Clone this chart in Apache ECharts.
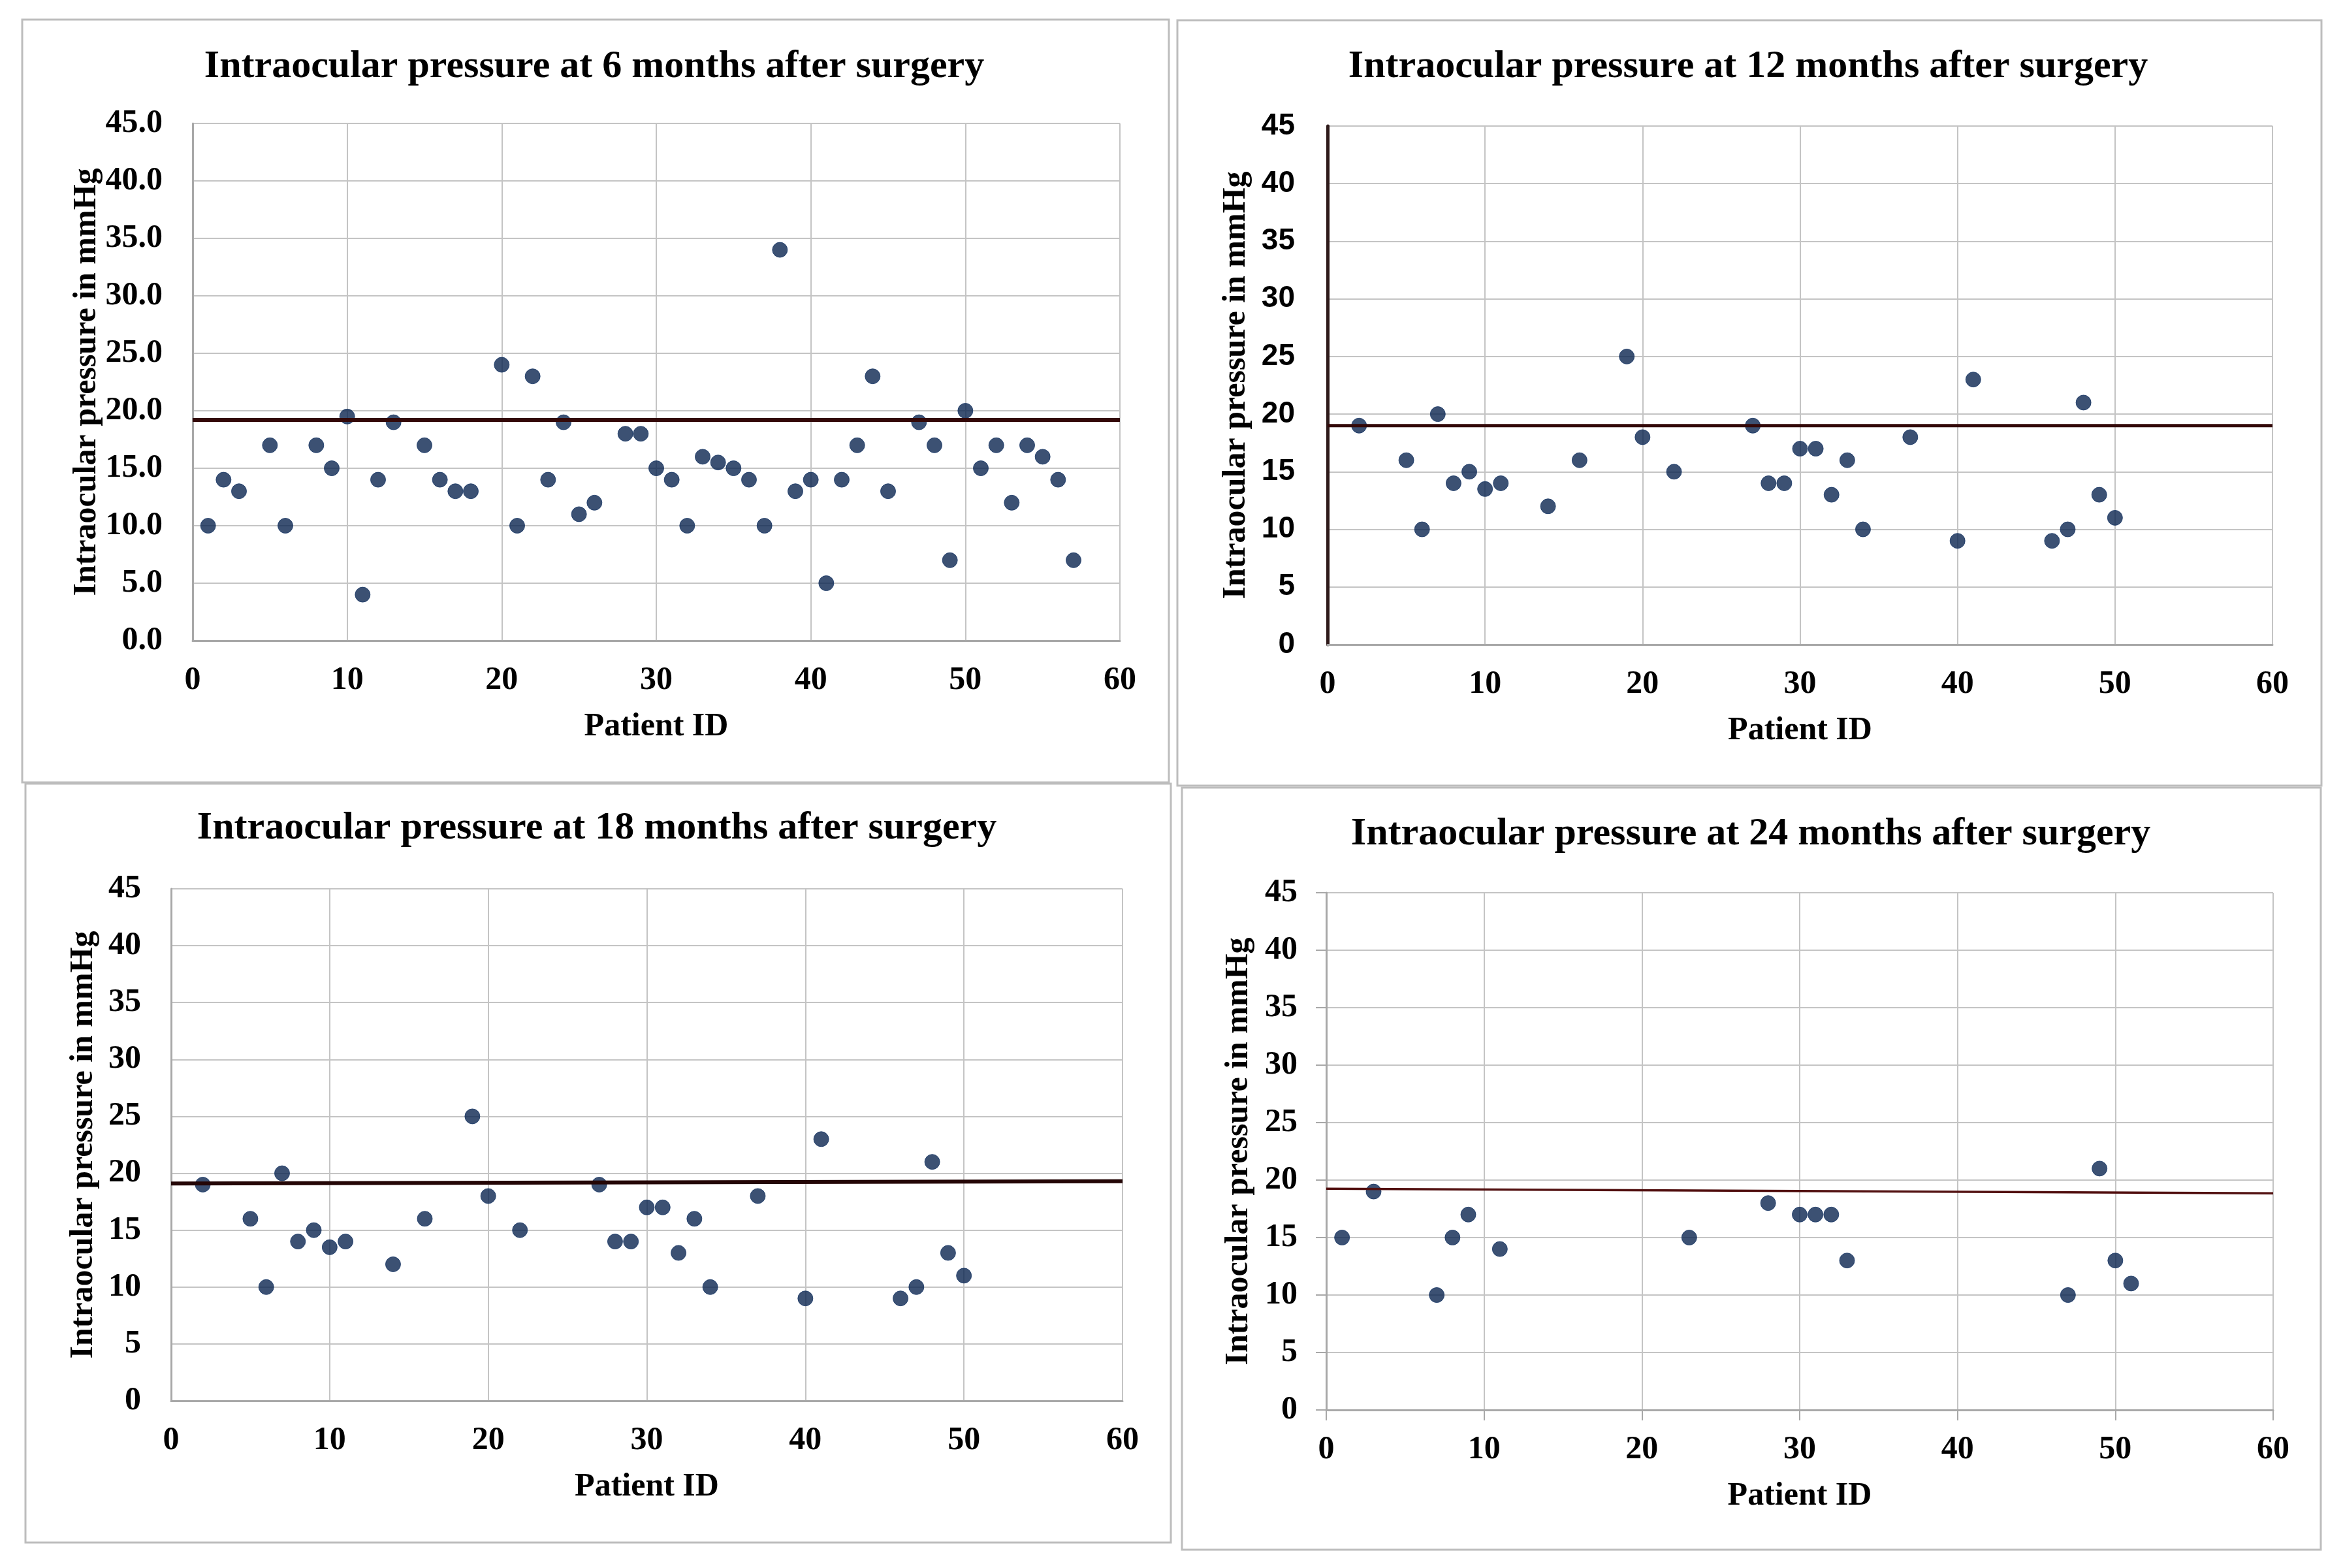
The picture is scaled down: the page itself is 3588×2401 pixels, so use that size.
<!DOCTYPE html>
<html>
<head>
<meta charset="utf-8">
<script src="https://cdn.jsdelivr.net/npm/echarts@6/dist/echarts.min.js"></script>
<style>
html,body{margin:0;padding:0;background:#fff;}
#chart{width:3588px;height:2401px;}
</style>
</head>
<body>
<div id="chart"></div>
<script>
// ---------- DATA ----------
const titles = [
  'Intraocular pressure at 6 months after surgery',
  'Intraocular pressure at 12 months after surgery',
  'Intraocular pressure at 18 months after surgery',
  'Intraocular pressure at 24 months after surgery'
];
const xName = 'Patient ID';
const yName = 'Intraocular pressure in mmHg';

const ids6 = [1,2,3,5,6,8,9,10,11,12,13,15,16,17,18,20,21,22,23,24,25,26,28,29,30,31,32,33,34,35,36,37,38,39,40,41,42,43,44,45,47,48,49,50,51,52,53,54,55,56,57];
const iop6 = [10,14,13,17,10,17,15,19.5,4,14,19,17,14,13,13,24,10,23,14,19,11,12,18,18,15,14,10,16,15.5,15,14,10,34,13,14,5,14,17,23,13,19,17,7,20,15,17,12,17,16,14,7];

const ids12 = [2,5,6,7,8,9,10,11,14,16,19,20,22,27,28,29,30,31,32,33,34,37,40,41,46,47,48,49,50];
const iop12 = [19,16,10,20,14,15,13.5,14,12,16,25,18,15,19,14,14,17,17,13,16,10,18,9,23,9,10,21,13,11];

const ids18 = [2,5,6,7,8,9,10,11,14,16,19,20,22,27,28,29,30,31,32,33,34,37,40,41,46,47,48,49,50];
const iop18 = [19,16,10,20,14,15,13.5,14,12,16,25,18,15,19,14,14,17,17,13,16,10,18,9,23,9,10,21,13,11];

const ids24 = [1,3,7,8,9,11,23,28,30,31,32,33,47,49,50,51];
const iop24 = [15,19,10,15,17,14,15,18,17,17,17,13,10,21,13,11];

// reference (horizontal) lines: [x, y] end points
const ref6  = [[0,19.2],[60,19.2]];
const ref12 = [[0,19.0],[60,19.0]];
const ref18 = [[0,19.1],[60,19.3]];
const ref24 = [[0,19.25],[60,18.85]];

const yMax = 45, yStep = 5, xMax = 60, xStep = 10;

// ---------- LAYOUT ----------
const SERIF = '"Liberation Serif", "Times New Roman", serif';
const SANS = '"Liberation Sans", Arial, sans-serif';

const panels = [
  {grid:{left:295,top:189,width:1420,height:792}, border:[34,30,1756,1168], titleXY:[910,102], yGap:137, yMargin:46, yDec:true, ids:ids6, vals:iop6, ref:ref6, lineW:6, lineC:'#330808'},
  {grid:{left:2033,top:193,width:1447,height:794}, border:[1803,31,1752,1172], titleXY:[2677,102], yGap:115, yMargin:50, ySans:true, darkY:true, ids:ids12, vals:iop12, ref:ref12, lineW:5, lineC:'#330808'},
  {grid:{left:262,top:1361,width:1457,height:784}, border:[39,1200,1754,1162], titleXY:[914,1268], yGap:109, yMargin:46, ids:ids18, vals:iop18, ref:ref18, lineW:6, lineC:'#240606'},
  {grid:{left:2031,top:1367,width:1450,height:792}, border:[1810,1206,1744,1167], titleXY:[2681,1277], yGap:109, yMargin:44, ticks:true, ids:ids24, vals:iop24, ref:ref24, lineW:3.5, lineC:'#521010'}
];

const grids = [], xAxes = [], yAxes = [], series = [], graphics = [];

panels.forEach((p, i) => {
  grids.push(Object.assign({containLabel:false}, p.grid));
  xAxes.push({
    type:'value', gridIndex:i, min:0, max:xMax, interval:xStep,
    name:xName, nameLocation:'middle', nameGap:107,
    nameTextStyle:{fontFamily:SERIF, fontWeight:'bold', fontSize:50, color:'#000'},
    axisLine:{show:true, onZero:false, lineStyle:{color:'#a8a8a8', width:3}},
    axisTick:{show:!!p.ticks, inside:false, length:16, lineStyle:{color:'#a8a8a8', width:2}},
    axisLabel:{fontFamily:SERIF, fontWeight:'bold', fontSize:50, color:'#000', margin:36},
    splitLine:{show:true, lineStyle:{color:'#c4c4c4', width:2}}
  });
  yAxes.push({
    type:'value', gridIndex:i, min:0, max:yMax, interval:yStep,
    name:yName, nameLocation:'middle', nameGap:p.yGap, nameRotate:90,
    nameTextStyle:{fontFamily:SERIF, fontWeight:'bold', fontSize:50, color:'#000'},
    axisLine:{show:true, onZero:false, lineStyle:{color:p.darkY ? '#2e1a1a' : '#a8a8a8', width:p.darkY ? 5 : 3}},
    axisTick:{show:!!p.ticks, inside:false, length:16, lineStyle:{color:'#a8a8a8', width:2}},
    axisLabel:{
      fontFamily:p.ySans ? SANS : SERIF, fontWeight:'bold', fontSize:p.ySans ? 46 : 50, color:'#000', margin:p.yMargin,
      formatter: v => p.yDec ? v.toFixed(1) : String(v)
    },
    splitLine:{show:true, lineStyle:{color:'#c4c4c4', width:2}}
  });
  series.push({
    type:'scatter', xAxisIndex:i, yAxisIndex:i, z:2,
    symbol:'circle', symbolSize:23,
    itemStyle:{color:'#0b2550', borderColor:'#183766', borderWidth:1},
    data:p.ids.map((id, k) => [id, p.vals[k]]),
    silent:true
  });
  series.push({
    type:'line', xAxisIndex:i, yAxisIndex:i, z:3,
    symbol:'none', data:p.ref,
    lineStyle:{color:p.lineC, width:p.lineW},
    silent:true
  });
  const b = p.border;
  graphics.push({
    type:'rect', shape:{x:b[0], y:b[1], width:b[2], height:b[3]},
    style:{fill:'none', stroke:'#bdbdbd', lineWidth:3}, silent:true, z:0
  });
  graphics.push({
    type:'text', x:p.titleXY[0], y:p.titleXY[1], silent:true, z:10,
    style:{text:titles[i], font:'bold 60px ' + SERIF, fill:'#000', align:'center', verticalAlign:'middle'}
  });
});

const chart = echarts.init(document.getElementById('chart'), null, {renderer:'canvas'});
chart.setOption({
  backgroundColor:'#ffffff',
  animation:false,
  grid:grids,
  xAxis:xAxes,
  yAxis:yAxes,
  series:series,
  graphic:graphics
});
</script>
</body>
</html>
